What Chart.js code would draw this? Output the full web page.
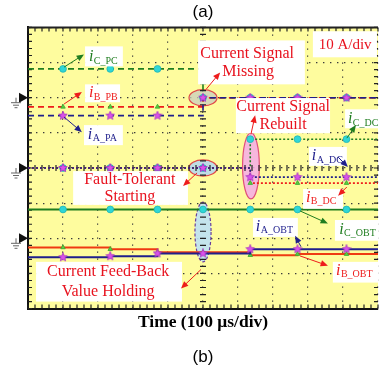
<!DOCTYPE html>
<html>
<head>
<meta charset="utf-8">
<script src="https://cdn.jsdelivr.net/npm/chart.js@4.4.0/dist/chart.umd.min.js"></script>
<style>
  html, body { margin: 0; padding: 0; background: #fff; }
</style>
</head>
<body>
<canvas id="scope" width="381" height="371"></canvas>
<script>
// time axis in divisions (100 us/div), sample points where the scope markers sit
const timeDiv = [0, 1.0, 2.35, 3.7, 5.0, 6.35, 7.7, 9.1, 10];
// zero level of each channel group, in divisions from the bottom
const groundDiv = [6, 4, 2];
const ampsPerDiv = 10;

// phase currents in A (group 1: sampled, group 2: rebuilt, group 3: observer)
const iA_PA = [-5.1, -5.1, -5.1, -5.1, 0, 0, 0, 0, 0];
const iB_PB = [-2.6, -2.6, -2.6, -2.6, 0, 0, 0, 0, 0];
const iC_PC = [8.2, 8.2, 8.2, 8.2, 0, 0, 0, 0, 0];
const iA_DC = [0, 0, 0, 0, 0, -2.6, -2.6, -2.6, -2.6];
const iB_DC = [0, 0, 0, 0, 0, -4.3, -4.3, -4.3, -4.3];
const iC_DC = [0, 0, 0, 0, 0, 8.2, 8.2, 8.2, 8.2];
const iA_OBT = [-5.4, -5.4, -5.1, -4.3, -4.3, -3.1, -3.1, -3.1, -3.1];
const iB_OBT = [-2.6, -2.6, -3.1, -4.0, -4.0, -4.8, -4.5, -4.5, -4.5];
const iC_OBT = [8.2, 8.2, 8.2, 8.2, 8.2, 8.2, 8.2, 8.2, 8.2];

const RED = '#ee1c1c';
const NAVY = '#1f1f8c';
const GREEN = '#1f7d1f';
const TXT_RED = '#e8121e';

// small filled star used as the phase A marker
const starImage = function (size, fill, edge) {
    const c = document.createElement('canvas');
    c.width = c.height = size;
    const g = c.getContext('2d');
    const r = size / 2 - 0.5, ri = r * 0.45;
    g.beginPath();
    for (let k = 0; k < 10; k++) {
        const ang = -Math.PI / 2 + k * Math.PI / 5;
        const rr = k % 2 ? ri : r;
        g.lineTo(size / 2 + rr * Math.cos(ang), size / 2 + rr * Math.sin(ang));
    }
    g.closePath();
    g.fillStyle = fill;
    g.fill();
    g.strokeStyle = edge;
    g.lineWidth = 0.8;
    g.stroke();
    return c;
};
const star = starImage(10, '#da52ea', '#a530c0');

const markers = {
    A: {style: star, radius: 4, fill: '#da52ea', edge: '#a530c0'},
    B: {style: 'triangle', radius: 2.6, fill: '#58d040', edge: '#38a830'},
    C: {style: 'circle', radius: 3.4, fill: '#2ed6d6', edge: '#22b4b4'}
};

const toPoints = function (amps, g) {
    return amps.map(function (a, i) {
        return {x: timeDiv[i], y: groundDiv[g] + a / ampsPerDiv};
    });
};

const innerOnly = function (r) {
    return function (ctx) {
        const n = ctx.dataset.data.length;
        return (ctx.dataIndex === 0 || ctx.dataIndex === n - 1) ? 0 : r;
    };
};

const trace = function (label, amps, g, color, dash, width, m) {
    return {
        label: label,
        data: toPoints(amps, g),
        borderColor: color,
        borderWidth: width,
        borderDash: dash,
        stepped: true,
        tension: 0,
        pointStyle: m.style,
        pointRadius: innerOnly(m.radius),
        pointBackgroundColor: m.fill,
        pointBorderColor: m.edge,
        pointBorderWidth: 0.8
    };
};

// first dataset is drawn on top
const datasets = [
    trace('iA_PA', iA_PA, 0, NAVY, [6, 4], 1.6, markers.A),
    trace('iB_PB', iB_PB, 0, RED, [6, 4], 1.6, markers.B),
    trace('iC_PC', iC_PC, 0, GREEN, [6, 4], 1.6, markers.C),
    trace('iA_DC', iA_DC, 1, NAVY, [2, 2], 1.6, markers.A),
    trace('iB_DC', iB_DC, 1, RED, [2, 2], 1.6, markers.B),
    trace('iC_DC', iC_DC, 1, GREEN, [2, 2], 1.6, markers.C),
    trace('iA_OBT', iA_OBT, 2, NAVY, [], 2, markers.A),
    trace('iB_OBT', iB_OBT, 2, '#ef3a12', [], 2, markers.B),
    trace('iC_OBT', iC_OBT, 2, GREEN, [], 2, markers.C)
];

// annotations, in divisions
const notes = [
    {box: [8.14, 7.89, 9.97, 7.15], lines: [[9.06, 7.49, '10 A/div']], size: 15},
    {box: [4.86, 7.63, 7.91, 6.38], lines: [[6.26, 7.26, 'Current Signal'], [6.29, 6.75, 'Missing']], size: 16},
    {box: [5.94, 5.99, 8.63, 4.99], lines: [[7.29, 5.73, 'Current Signal'], [7.29, 5.22, 'Rebuilt']], size: 16},
    {box: [1.29, 3.91, 4.57, 2.95], lines: [[2.91, 3.66, 'Fault-Tolerant'], [2.91, 3.18, 'Starting']], size: 16},
    {box: [0.23, 1.33, 4.40, 0.20], lines: [[2.29, 1.05, 'Current Feed-Back'], [2.29, 0.48, 'Value Holding']], size: 16}
];
const labels = [
    {box: [1.63, 7.46, 2.71, 6.89], at: [1.74, 7.15], sub: 'C_PC', color: GREEN},
    {box: [1.63, 6.38, 2.63, 5.87], at: [1.74, 6.13], sub: 'B_PB', color: RED},
    {box: [1.60, 5.22, 2.71, 4.65], at: [1.71, 4.94], sub: 'A_PA', color: NAVY},
    {box: [9.06, 5.67, 10.1, 5.13], at: [9.14, 5.39], sub: 'C_DC', color: GREEN},
    {box: [8.03, 4.60, 9.11, 4.06], at: [8.11, 4.34], sub: 'A_DC', color: NAVY},
    {box: [7.86, 3.40, 9.00, 2.84], at: [7.94, 3.15], sub: 'B_DC', color: RED},
    {box: [6.43, 2.58, 7.71, 2.04], at: [6.51, 2.33], sub: 'A_OBT', color: NAVY},
    {box: [8.77, 2.52, 10.0, 1.93], at: [8.89, 2.24], sub: 'C_OBT', color: GREEN},
    {box: [8.71, 1.33, 10.0, 0.74], at: [8.80, 1.08], sub: 'B_OBT', color: RED}
];
const arrows = [
    [1.03, 6.87, 1.60, 7.23, GREEN],
    [1.03, 5.82, 1.54, 6.16, RED],
    [1.03, 5.45, 1.54, 5.02, NAVY],
    [5.09, 6.24, 5.49, 6.72, RED],
    [6.37, 4.96, 6.49, 5.50, RED],
    [4.83, 3.86, 4.43, 3.49, RED],
    [4.94, 1.11, 4.37, 0.57, RED],
    [9.11, 4.85, 9.37, 5.22, GREEN],
    [8.86, 4.31, 9.14, 4.03, NAVY],
    [9.11, 3.46, 8.86, 3.21, RED],
    [7.80, 1.76, 7.63, 2.07, NAVY],
    [7.77, 2.78, 8.57, 2.42, GREEN],
    [7.77, 1.50, 8.57, 1.22, RED]
];
const ellipses = [
    {c: [5.0, 6.0], rx: 0.4, ry: 0.23, fill: 'rgba(200,205,190,0.75)', edge: '#e04848', dash: []},
    {c: [5.0, 4.0], rx: 0.4, ry: 0.23, fill: 'rgba(180,215,240,0.85)', edge: '#e04848', dash: []},
    {c: [6.37, 4.06], rx: 0.24, ry: 0.94, fill: 'rgba(244,170,230,0.85)', edge: '#e0507a', dash: []},
    {c: [5.0, 2.18], rx: 0.23, ry: 0.85, fill: 'rgba(190,225,244,0.9)', edge: '#6a3d9a', dash: [3, 2]}
];

const scopeDecor = {
    id: 'scopeDecor',
    beforeDraw(chart) {
        const a = chart.chartArea, ctx = chart.ctx;
        ctx.save();
        ctx.fillStyle = '#fefc9e';
        ctx.fillRect(a.left, a.top, a.right - a.left, a.bottom - a.top);
        ctx.restore();
    },
    beforeDatasetsDraw(chart) {
        const a = chart.chartArea, ctx = chart.ctx;
        const sx = chart.scales.x, sy = chart.scales.y;
        ctx.save();
        ellipses.forEach(function (e) {
            ctx.beginPath();
            ctx.ellipse(sx.getPixelForValue(e.c[0]), sy.getPixelForValue(e.c[1]),
                e.rx * (sx.getPixelForValue(1) - sx.getPixelForValue(0)),
                e.ry * (sy.getPixelForValue(0) - sy.getPixelForValue(1)), 0, 0, Math.PI * 2);
            ctx.fillStyle = e.fill;
            ctx.fill();
            ctx.setLineDash(e.dash);
            ctx.strokeStyle = e.edge;
            ctx.lineWidth = 1.2;
            ctx.stroke();
        });
        ctx.setLineDash([]);
        // frame and centre-axis minor ticks
        ctx.strokeStyle = '#222';
        ctx.lineWidth = 1.2;
        ctx.beginPath();
        for (let t = 0; t <= 10.001; t += 0.2) {
            const x = sx.getPixelForValue(t);
            ctx.moveTo(x, a.top); ctx.lineTo(x, a.top + 4);
            ctx.moveTo(x, a.bottom); ctx.lineTo(x, a.bottom - 4);
            const yc = sy.getPixelForValue(4);
            ctx.moveTo(x, yc - 3); ctx.lineTo(x, yc + 3);
        }
        for (let v = 0; v <= 8.001; v += 0.2) {
            const y = sy.getPixelForValue(v);
            ctx.moveTo(a.left, y); ctx.lineTo(a.left + 4, y);
            ctx.moveTo(a.right, y); ctx.lineTo(a.right - 4, y);
            const xc = sx.getPixelForValue(5);
            ctx.moveTo(xc - 3, y); ctx.lineTo(xc + 3, y);
        }
        ctx.stroke();
        ctx.lineWidth = 2;
        ctx.beginPath();
        ctx.moveTo(a.left, a.top); ctx.lineTo(a.right, a.top);
        ctx.stroke();
        // channel ground markers
        groundDiv.forEach(function (g) {
            const y = sy.getPixelForValue(g);
            ctx.fillStyle = '#111';
            ctx.beginPath();
            ctx.moveTo(a.left - 9, y - 5); ctx.lineTo(a.left, y); ctx.lineTo(a.left - 9, y + 5);
            ctx.closePath();
            ctx.fill();
            ctx.strokeStyle = '#666';
            ctx.lineWidth = 1;
            ctx.beginPath();
            ctx.moveTo(a.left - 12, y); ctx.lineTo(a.left - 12, y + 5);
            ctx.moveTo(a.left - 17, y + 5); ctx.lineTo(a.left - 7, y + 5);
            ctx.moveTo(a.left - 15, y + 7.5); ctx.lineTo(a.left - 9, y + 7.5);
            ctx.moveTo(a.left - 13.5, y + 10); ctx.lineTo(a.left - 10.5, y + 10);
            ctx.stroke();
        });
        ctx.restore();
    },
    afterDatasetsDraw(chart) {
        const ctx = chart.ctx;
        const sx = chart.scales.x, sy = chart.scales.y;
        const X = function (v) { return sx.getPixelForValue(v); };
        const Y = function (v) { return sy.getPixelForValue(v); };
        ctx.save();
        ctx.fillStyle = '#fff';
        notes.concat(labels).forEach(function (n) {
            ctx.fillRect(X(n.box[0]), Y(n.box[1]), X(n.box[2]) - X(n.box[0]), Y(n.box[3]) - Y(n.box[1]));
        });
        ctx.textBaseline = 'middle';
        ctx.textAlign = 'center';
        ctx.fillStyle = TXT_RED;
        notes.forEach(function (n) {
            ctx.font = n.size + 'px "Liberation Serif"';
            n.lines.forEach(function (l) { ctx.fillText(l[2], X(l[0]), Y(l[1])); });
        });
        ctx.textAlign = 'left';
        ctx.textBaseline = 'alphabetic';
        labels.forEach(function (l) {
            const x = X(l.at[0]), y = Y(l.at[1]) + 4;
            ctx.fillStyle = l.color;
            ctx.font = 'italic 16px "Liberation Serif"';
            ctx.fillText('i', x, y);
            const w = ctx.measureText('i').width;
            ctx.font = '10px "Liberation Serif"';
            ctx.fillText(l.sub, x + w + 0.5, y + 2.5);
        });
        arrows.forEach(function (r) {
            const x1 = X(r[0]), y1 = Y(r[1]), x2 = X(r[2]), y2 = Y(r[3]);
            const ang = Math.atan2(y2 - y1, x2 - x1);
            ctx.strokeStyle = r[4];
            ctx.fillStyle = r[4];
            ctx.lineWidth = 1;
            ctx.beginPath();
            ctx.moveTo(x1, y1); ctx.lineTo(x2 - 5 * Math.cos(ang), y2 - 5 * Math.sin(ang));
            ctx.stroke();
            ctx.beginPath();
            ctx.moveTo(x2, y2);
            ctx.lineTo(x2 - 8 * Math.cos(ang - 0.4), y2 - 8 * Math.sin(ang - 0.4));
            ctx.lineTo(x2 - 8 * Math.cos(ang + 0.4), y2 - 8 * Math.sin(ang + 0.4));
            ctx.closePath();
            ctx.fill();
        });
        ctx.restore();
    }
};

const gridOpts = {color: '#3a3a3a', lineWidth: 1.2, drawTicks: false};

new Chart(document.getElementById('scope'), {
    type: 'line',
    data: {datasets: datasets},
    options: {
        responsive: false,
        animation: false,
        devicePixelRatio: 1,
        layout: {padding: {left: 28, right: 3, top: 0, bottom: 0}},
        scales: {
            x: {
                type: 'linear', min: 0, max: 10,
                ticks: {display: false, stepSize: 1},
                grid: gridOpts,
                border: {display: true, color: '#111', width: 2, dash: [1.4, 5.6]},
                title: {
                    display: true, text: 'Time (100 μs/div)', color: '#000',
                    font: {family: 'Liberation Serif', size: 17.5, weight: 'bold'},
                    padding: {top: 3, bottom: 0}
                }
            },
            y: {
                type: 'linear', min: 0, max: 8,
                ticks: {display: false, stepSize: 1},
                grid: gridOpts,
                border: {display: true, color: '#111', width: 2, dash: [1.4, 5.6]}
            }
        },
        plugins: {
            legend: {display: false},
            tooltip: {enabled: false},
            title: {
                display: true, text: '(a)', color: '#000',
                font: {family: 'Liberation Sans', size: 17, weight: 'normal'},
                padding: {top: 2, bottom: 5}
            },
            subtitle: {
                display: true, text: '(b)', position: 'bottom', color: '#000',
                font: {family: 'Liberation Sans', size: 17, weight: 'normal'},
                padding: {top: 15, bottom: 3}
            }
        }
    },
    plugins: [scopeDecor]
});
</script>
</body>
</html>
